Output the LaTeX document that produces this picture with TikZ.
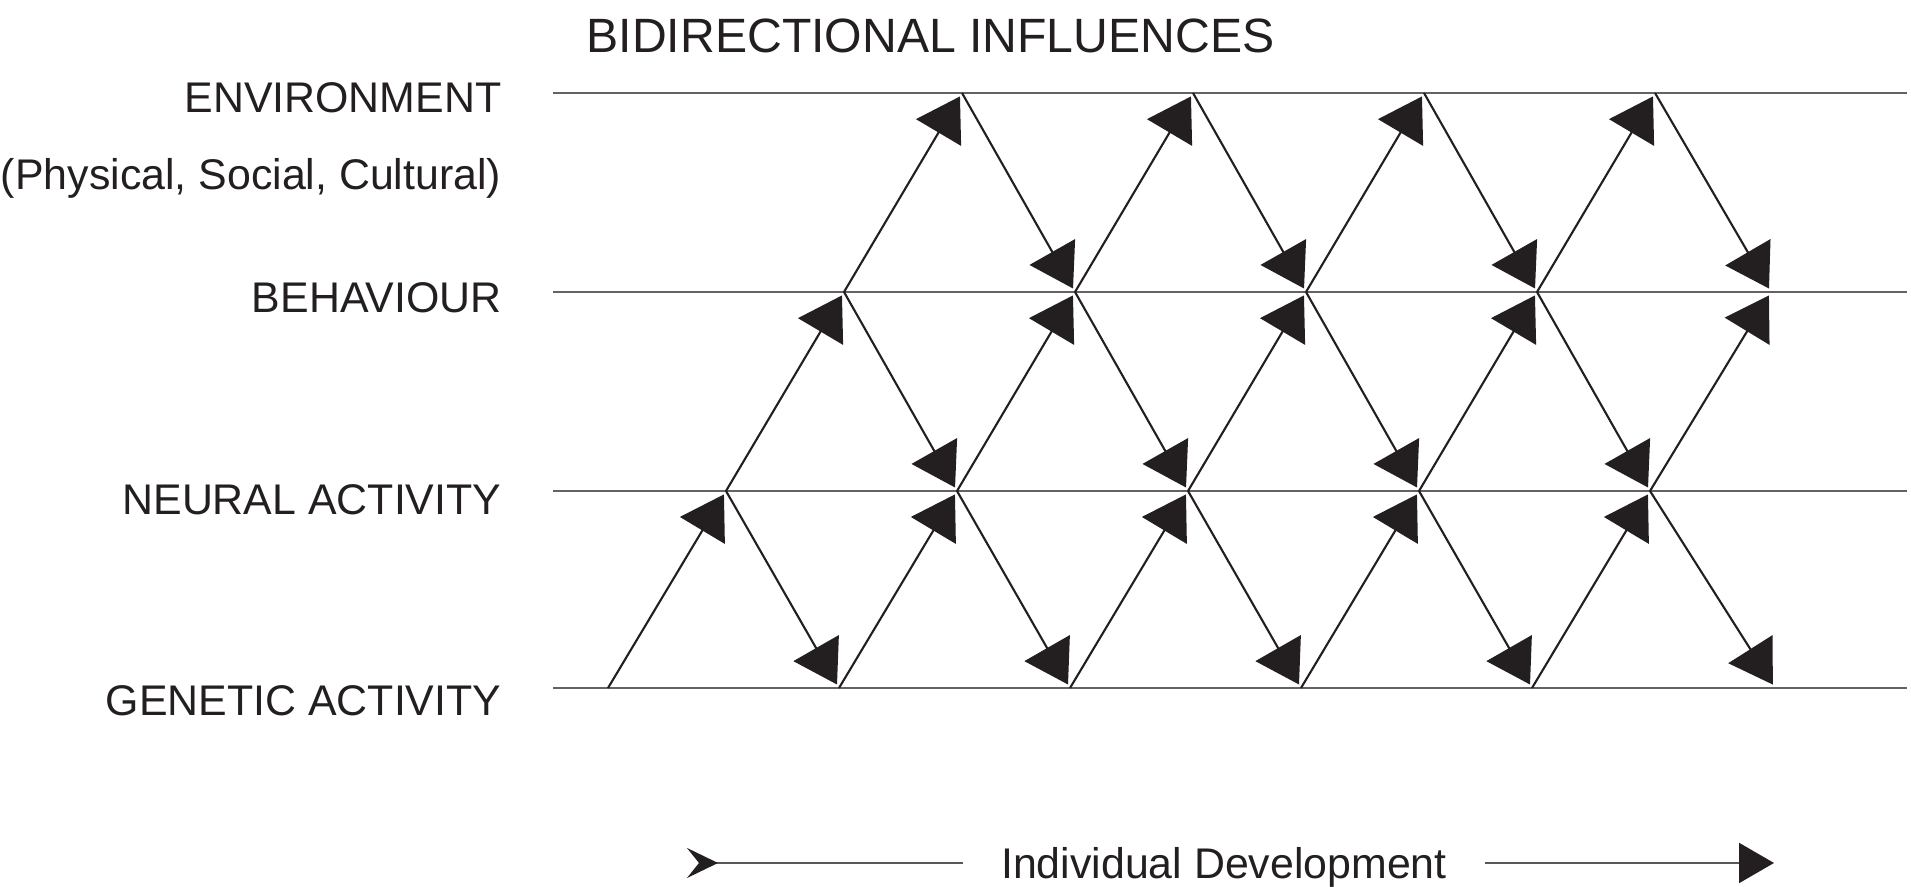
\documentclass[tikz,border=0pt]{standalone}
\usepackage{fontspec}
\setmainfont{Liberation Sans}
\usetikzlibrary{arrows.meta}
\definecolor{ink}{HTML}{231F20}
\tikzset{
  levelline/.style  = {draw=ink!70, line width=0.6pt},
  influence/.style  = {draw=ink, line width=0.6pt,
                       -{Triangle[length=4.2mm,width=5.2mm]},
                       shorten >=0.4mm},
  influences/.style = {every edge/.style={influence}},
  levellabel/.style = {anchor=east, inner sep=0pt,
                       text height=3.1mm, text depth=0pt, text=ink,
                       font=\fontsize{12.2}{14}\selectfont},
  heading/.style    = {anchor=base west, inner sep=0pt, text=ink,
                       font=\fontsize{13.7}{16}\selectfont},
  timelabel/.style  = {levellabel, anchor=center, inner xsep=3.7mm},
  timeline/.style   = {draw=ink!75, line width=0.6pt}
}

\begin{document}
\begin{tikzpicture}
  \useasboundingbox (0,0) rectangle (19.11,8.87);

  % labels
  \node[heading] (title) at (5.86,8.34) {BIDIRECTIONAL INFLUENCES};
  \node[levellabel] (env)      at (5.02,7.90) {ENVIRONMENT};
  \node[levellabel] (envsub)   at (5.02,7.13) {(Physical, Social, Cultural)};
  \node[levellabel] (behav)    at (5.02,5.90) {BEHAVIOUR};
  \node[levellabel] (neural)   at (5.02,3.88) {NEURAL ACTIVITY};
  \node[levellabel] (genetic)  at (5.02,1.87) {GENETIC ACTIVITY};

  % levels
  \coordinate (eL) at (5.53,7.94);  \coordinate (eR) at (19.07,7.94);
  \coordinate (bL) at (5.53,5.95);  \coordinate (bR) at (19.07,5.95);
  \coordinate (nL) at (5.53,3.96);  \coordinate (nR) at (19.07,3.96);
  \coordinate (gL) at (5.53,1.99);  \coordinate (gR) at (19.07,1.99);
  \draw[levelline] (eL) -- (eR)  (bL) -- (bR)  (nL) -- (nR)  (gL) -- (gR);

  % crossing points
  \coordinate (g0) at (6.08,1.99);
  \coordinate (g1) at (8.39,1.99);
  \coordinate (g2) at (10.70,1.99);
  \coordinate (g3) at (13.01,1.99);
  \coordinate (g4) at (15.32,1.99);
  \coordinate (g5) at (17.75,1.99);
  \coordinate (n0) at (7.26,3.96);
  \coordinate (n1) at (9.57,3.96);
  \coordinate (n2) at (11.88,3.96);
  \coordinate (n3) at (14.19,3.96);
  \coordinate (n4) at (16.50,3.96);
  \coordinate (b0) at (8.44,5.95);
  \coordinate (b1) at (10.75,5.95);
  \coordinate (b2) at (13.06,5.95);
  \coordinate (b3) at (15.37,5.95);
  \coordinate (b4) at (17.71,5.95);
  \coordinate (e0) at (9.62,7.94);
  \coordinate (e1) at (11.93,7.94);
  \coordinate (e2) at (14.24,7.94);
  \coordinate (e3) at (16.55,7.94);

  \path[influences]
    (g0) edge (n0)  (n0) edge (g1)
    (g1) edge (n1)  (n1) edge (g2)
    (g2) edge (n2)  (n2) edge (g3)
    (g3) edge (n3)  (n3) edge (g4)
    (g4) edge (n4)  (n4) edge (g5)
    (n0) edge (b0)  (b0) edge (n1)
    (n1) edge (b1)  (b1) edge (n2)
    (n2) edge (b2)  (b2) edge (n3)
    (n3) edge (b3)  (b3) edge (n4)
    (n4) edge (b4)
    (b0) edge (e0)  (e0) edge (b1)
    (b1) edge (e1)  (e1) edge (b2)
    (b2) edge (e2)  (e2) edge (b3)
    (b3) edge (e3)  (e3) edge (b4);

  % development axis
  \node[timelabel] (time) at (12.24,0.24) {Individual Development};
  \coordinate (devstart) at (6.87,0.24);
  \coordinate (devend)   at (17.74,0.24);
  \draw[timeline, {Stealth[reversed,length=3.1mm,width=3mm,inset=1.2mm,color=ink]}-]
    (devstart) -- (time.west);
  \draw[timeline, -{Triangle[length=3.5mm,width=4mm,color=ink]}]
    (time.east) -- (devend);
\end{tikzpicture}
\end{document}
